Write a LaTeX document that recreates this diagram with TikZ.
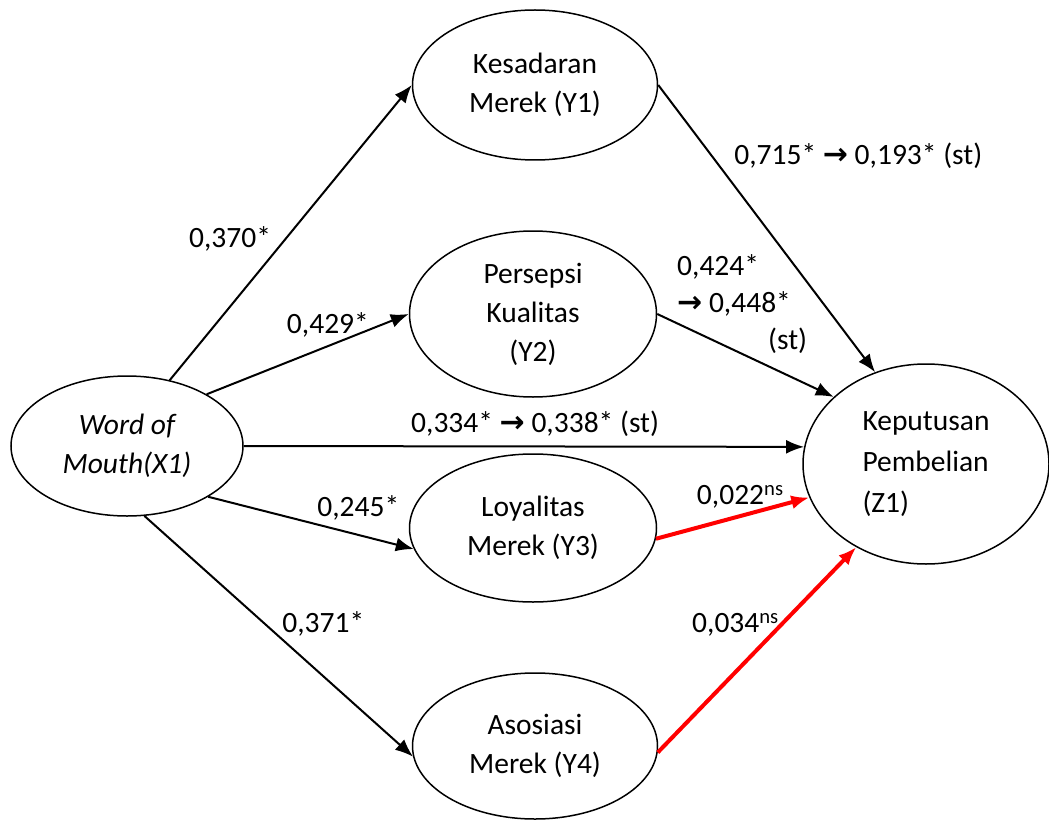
\documentclass[tikz,border=0pt]{standalone}
\usepackage{fontspec}
\setmainfont{Carlito}
\newfontfamily\arrowfont{DejaVu Sans}
\usepackage{tikz}
\usetikzlibrary{arrows.meta, positioning, shapes.geometric}
\newcommand{\ra}{{\arrowfont\bfseries\fontsize{30}{37}\selectfont →}}

\begin{document}
\begin{tikzpicture}[x=1pt,y=-1pt,>={Latex[length=18pt,width=14pt]},->,
	var/.style={ellipse,draw,line width=1.5pt,inner sep=0pt,align=center,font=\fontsize{29.5}{39}\selectfont},
	lbl/.style={font=\fontsize{29.5}{37}\selectfont,inner sep=0pt,text=black},
	every edge/.append style={line width=2pt},
	nsedge/.style={red,line width=4pt}]
			\useasboundingbox (0,0) rectangle (1049,821);
			\node[var,minimum width=232pt,minimum height=140pt] (X1) at (127,446) {\itshape Word of\\\itshape Mouth(X1)};
			\node[var,minimum width=245pt,minimum height=150pt] (Y1) at (535,85) {Kesadaran\\Merek (Y1)};
			\node[var,minimum width=247pt,minimum height=166pt] (Y2) at (533,314) {Persepsi\\Kualitas\\(Y2)};
			\node[var,minimum width=247pt,minimum height=148pt] (Y3) at (533,528) {Loyalitas\\Merek (Y3)};
			\node[var,minimum width=245pt,minimum height=146pt] (Y4) at (535,746) {Asosiasi\\Merek (Y4)};
			\node[var,align=left,minimum width=246pt,minimum height=200pt,font=\fontsize{29.5}{41}\selectfont] (Z1) at (926,464) {Keputusan\\Pembelian\\(Z1)\hspace*{12pt}};
			\path 	(X1.57) edge node[lbl,pos=0.48,left=14pt] {0,370*} (Y1.west)
			(X1.33) edge node[lbl,pos=0.6,above=8pt] {0,429*} (Y2.west)
			(X1.east) edge node[lbl,pos=0.52,above=9pt] {0,334* \ra\ 0,338* (st)} (Z1.172)
			(X1.-32) edge node[lbl,pos=0.73,above=14pt] {0,245*} (Y3.190)
			(X1.-76) edge node[lbl,pos=0.45,right=16pt] {0,371*} (Y4.185)
			(Y1.east) edge node[lbl,pos=0.245,right=22pt] {0,715* \ra\ 0,193* (st)} (Z1.119)
			(Y2.east) edge (Z1.144)
			(Y3.-5) edge[nsedge] node[lbl,pos=0.55,above=6pt] {0,022\textsuperscript{ns}} (Z1.196)
			(Y4.-3) edge[nsedge] node[lbl,pos=0.62,left=0pt] {0,034\textsuperscript{ns}} (Z1.230);
			\node[lbl,align=left,anchor=north west] (lbl24) at (677,254) {0,424*\\\ra\ 0,448*\\\hspace*{91pt}(st)};
		\end{tikzpicture}
\end{document}
